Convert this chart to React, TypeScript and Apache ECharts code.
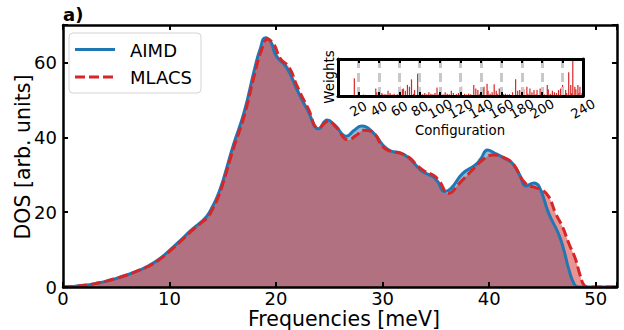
import React, { useEffect, useRef } from "react";
import * as echarts from "echarts";

// ---- Main DOS data (Frequencies in meV, DOS in arb. units) ----
const aimdFreq = [0, 1, 2, 3, 4, 5, 6, 7, 8, 9, 10, 11, 12, 13, 13.5, 14, 14.5, 15, 16, 17, 18, 18.5, 19, 19.5, 20, 21, 22, 23, 24, 24.8, 25.5, 26.6, 27.3, 28, 29.2, 30, 30.8, 31.6, 32.5, 33.2, 33.8, 34.7, 35.2, 35.8, 36.4, 37.5, 38.7, 39.2, 39.85, 40.5, 41.5, 42.2, 42.8, 43.5, 44.2, 44.7, 45.6, 46.5, 47, 47.5, 48, 48.4, 52];
const aimdDos = [0, 0.15, 0.45, 0.9, 1.5, 2.3, 3.2, 4.3, 5.6, 7.4, 9.8, 12.4, 15.1, 17.5, 18.9, 21.3, 24.3, 28.3, 38, 46.7, 58.5, 63.5, 66.6, 65.5, 61.8, 58.6, 52.5, 47, 42.3, 44.6, 43.3, 40.3, 41.8, 43, 41, 38, 36.3, 35.9, 34.4, 32.3, 30.7, 29.5, 28, 25.5, 26.3, 30.3, 32.6, 34.2, 36.6, 35.8, 34.3, 33, 30.3, 27, 27.8, 26.8, 19.6, 14.3, 10, 4.5, 0.7, 0, 0];

const mlacsFreq = [0, 1, 2, 3, 4, 5, 6, 7, 8, 9, 10, 11, 12, 13, 13.6, 14, 14.5, 15, 16, 17, 18, 18.6, 19.2, 19.8, 20.4, 21.2, 22, 23, 24, 24.9, 25.6, 26.8, 27.5, 28.3, 29.2, 30, 30.8, 31.6, 32.5, 33.2, 33.9, 34.8, 35.3, 36.2, 37.2, 38.4, 39.5, 40.4, 41.2, 42.2, 43.4, 44.4, 45, 45.6, 46.25, 46.9, 47.5, 48.1, 48.5, 48.9, 49.3, 52];
const mlacsDos = [0, 0.15, 0.45, 0.9, 1.5, 2.3, 3.2, 4.3, 5.5, 7.2, 9.5, 12.1, 14.8, 17.2, 18.7, 20.6, 23.5, 27.5, 37, 45.6, 57, 63, 66.2, 64.8, 61, 58.8, 53.5, 47.8, 42.5, 44.3, 42.8, 39.3, 40.5, 41.9, 41, 37.5, 36.2, 35.8, 34.6, 32.6, 31, 29.8, 28.4, 25, 27.7, 31.2, 34.2, 35.3, 34.8, 33, 27.7, 26.5, 25.9, 24.1, 19.6, 16, 11.5, 7.5, 3.5, 0.5, 0, 0];

// ---- Inset: configuration weights ----
const weightConfigs = [16, 25, 37, 38, 40, 41, 43, 44, 46, 47, 49, 51, 53, 55, 58, 60, 61, 63, 64, 66, 68, 70, 72, 74, 75, 78, 79, 81, 83, 85, 87, 89, 91, 93, 95, 97, 99, 101, 103, 105, 107, 109, 111, 113, 116, 118, 119, 121, 124, 126, 128, 130, 133, 135, 137, 139, 142, 143, 146, 147, 149, 151, 153, 155, 156, 158, 160, 162, 164, 166, 168, 171, 174, 176, 178, 180, 182, 185, 186, 188, 190, 192, 194, 195, 198, 200, 202, 205, 206, 208, 210, 212, 214, 216, 218, 220, 221, 223, 224, 226, 228, 229, 230, 232, 233, 235, 236, 237, 239];
const weightValues = [0.48, 0.04, 0.2, 0.1, 0.06, 0.04, 0.08, 0.05, 0.05, 0.04, 0.14, 0.08, 0.04, 0.06, 0.05, 0.07, 0.25, 0.18, 0.2, 0.14, 0.3, 0.25, 0.45, 0.06, 0.16, 0.6, 0.25, 0.06, 0.05, 0.08, 0.05, 0.1, 0.06, 0.05, 0.08, 0.23, 0.05, 0.08, 0.05, 0.1, 0.06, 0.05, 0.14, 0.08, 0.05, 0.08, 0.05, 0.25, 0.06, 0.04, 0.07, 0.05, 0.3, 0.2, 0.16, 0.06, 0.2, 0.25, 0.33, 0.14, 0.06, 0.1, 0.32, 0.14, 0.06, 0.2, 0.08, 0.05, 0.06, 0.04, 0.05, 0.1, 0.45, 0.14, 0.16, 0.1, 0.18, 0.25, 0.06, 0.2, 0.1, 0.16, 0.05, 0.16, 0.2, 0.1, 0.05, 0.3, 0.18, 0.06, 0.14, 0.1, 0.08, 0.16, 0.2, 0.3, 0.06, 0.16, 0.08, 0.64, 0.3, 0.08, 1.0, 0.25, 0.18, 0.3, 0.08, 0.25, 0.08];

const seriesNames = ["AIMD", "MLACS"];
const BLUE = "#1f77b4";
const RED = "#d62728";
const FONT = "DejaVu Sans";
const SMOOTH = 0.5;

const zip = (a: number[], b: number[]) => a.map((v, i) => [v, b[i]]);

export default function App() {
  const ref = useRef<HTMLDivElement>(null);
  useEffect(() => {
    if (!ref.current) return;
    const chart = echarts.init(ref.current, null, { renderer: "svg" });
    const aimd = zip(aimdFreq, aimdDos);
    const mlacs = zip(mlacsFreq, mlacsDos);
    const weights = zip(weightConfigs, weightValues);

    const spine = { show: true, onZero: false, lineStyle: { color: "#000", width: 2.5 } };
    const tick = { show: true, inside: true, length: 5, lineStyle: { color: "#000", width: 2 } };
    const ispine = { show: true, onZero: false, lineStyle: { color: "#000", width: 3 } };
    const itick = { show: true, inside: true, length: 4, lineStyle: { color: "#000", width: 2 } };

    chart.setOption({
      animation: false,
      textStyle: { fontFamily: FONT },
      grid: [
        { left: 63, right: 7, top: 25, bottom: 43 },
        { left: 338, top: 59, width: 245, height: 37, show: true, backgroundColor: "#fff", borderWidth: 0, z: 5 },
      ],
      xAxis: [
        {
          gridIndex: 0, type: "value", min: 0, max: 52, interval: 10, position: "bottom", z: 6,
          axisLine: spine, axisTick: tick, splitLine: { show: false },
          axisLabel: { color: "#000", fontSize: 18, margin: 2, lineHeight: 18, fontFamily: FONT, formatter: (v: number) => (v % 10 === 0 ? String(v) : "") },
        },
        {
          gridIndex: 0, type: "value", min: 0, max: 52, interval: 10, position: "top", z: 6,
          axisLine: spine, axisTick: tick, splitLine: { show: false }, axisLabel: { show: false },
        },
        {
          gridIndex: 1, type: "value", min: 0, max: 240, interval: 20, position: "bottom", z: 8,
          axisLine: ispine, axisTick: itick,
          splitLine: { show: true, lineStyle: { color: "#c8c8c8", width: 3, type: [9, 5] } },
          axisLabel: { color: "#000", fontSize: 13.3, fontFamily: FONT, rotate: 30, margin: 13, align: "center", verticalAlign: "middle", showMinLabel: false, showMaxLabel: true, hideOverlap: false },
        },
        {
          gridIndex: 1, type: "value", min: 0, max: 240, interval: 20, position: "top", z: 8,
          axisLine: ispine, axisTick: itick, splitLine: { show: false }, axisLabel: { show: false },
        },
      ],
      yAxis: [
        {
          gridIndex: 0, type: "value", min: 0, max: 70, interval: 20, position: "left", z: 6,
          axisLine: spine, axisTick: tick, splitLine: { show: false },
          axisLabel: { color: "#000", fontSize: 18, margin: 6, fontFamily: FONT, formatter: (v: number) => (v % 20 === 0 ? String(v) : "") },
        },
        {
          gridIndex: 0, type: "value", min: 0, max: 70, interval: 20, position: "right", z: 6,
          axisLine: spine, axisTick: tick, splitLine: { show: false }, axisLabel: { show: false },
        },
        {
          gridIndex: 1, type: "value", min: 0, max: 1, position: "left", z: 8,
          axisLine: ispine, axisTick: { show: false }, splitLine: { show: false }, axisLabel: { show: false },
        },
        {
          gridIndex: 1, type: "value", min: 0, max: 1, position: "right", z: 8,
          axisLine: ispine, axisTick: { show: false }, splitLine: { show: false }, axisLabel: { show: false },
        },
      ],
      series: [
        {
          name: seriesNames[0] + " fill", type: "line", xAxisIndex: 0, yAxisIndex: 0, data: aimd,
          smooth: SMOOTH, symbol: "none", z: 1,
          lineStyle: { width: 0, opacity: 0 }, areaStyle: { color: BLUE, opacity: 0.5 },
        },
        {
          name: seriesNames[1] + " fill", type: "line", xAxisIndex: 0, yAxisIndex: 0, data: mlacs,
          smooth: SMOOTH, symbol: "none", z: 2,
          lineStyle: { width: 0, opacity: 0 }, areaStyle: { color: RED, opacity: 0.5 },
        },
        {
          name: seriesNames[0], type: "line", xAxisIndex: 0, yAxisIndex: 0, data: aimd,
          smooth: SMOOTH, symbol: "none", z: 3,
          lineStyle: { color: BLUE, width: 3 },
        },
        {
          name: seriesNames[1], type: "line", xAxisIndex: 0, yAxisIndex: 0, data: mlacs,
          smooth: SMOOTH, symbol: "none", z: 4,
          lineStyle: { color: RED, width: 3, type: [10, 4] },
        },
        {
          name: "Weights", type: "bar", xAxisIndex: 2, yAxisIndex: 2, data: weights,
          barWidth: 1.2, itemStyle: { color: RED }, z: 7,
        },
      ],
      graphic: [
        { type: "rect", shape: { x: 69, y: 33, width: 132, height: 60, r: 4 }, style: { fill: "rgba(255,255,255,0.8)", stroke: "#d4d4d4", lineWidth: 1 }, z: 20 },
        { type: "line", shape: { x1: 75, y1: 49.5, x2: 115, y2: 49.5 }, style: { stroke: BLUE, lineWidth: 3 }, z: 21 },
        { type: "line", shape: { x1: 75, y1: 77, x2: 115, y2: 77 }, style: { stroke: RED, lineWidth: 3, lineDash: [10, 4] }, z: 21 },
        { type: "text", x: 130, y: 50, style: { text: seriesNames[0], fontSize: 18, fontFamily: FONT, fill: "#000", align: "left", verticalAlign: "middle" }, z: 21 },
        { type: "text", x: 130, y: 77.5, style: { text: seriesNames[1], fontSize: 18, fontFamily: FONT, fill: "#000", align: "left", verticalAlign: "middle" }, z: 21 },
        { type: "text", x: 63, y: 14, style: { text: "a)", fontSize: 18, fontWeight: "bold", fontFamily: FONT, fill: "#000", align: "left", verticalAlign: "middle" }, z: 21 },
        { type: "text", x: 344, y: 319, style: { text: "Frequencies [meV]", fontSize: 20.5, lineHeight: 20.5, fontFamily: FONT, fill: "#000", align: "center", verticalAlign: "middle" }, z: 21 },
        { type: "text", x: 22.5, y: 157, rotation: Math.PI / 2, style: { text: "DOS [arb. units]", fontSize: 20.5, fontFamily: FONT, fill: "#000", align: "center", verticalAlign: "middle" }, z: 21 },
        { type: "text", x: 460, y: 130, style: { text: "Configuration", fontSize: 13.3, fontFamily: FONT, fill: "#000", align: "center", verticalAlign: "middle" }, z: 21 },
        { type: "text", x: 329, y: 77, rotation: Math.PI / 2, style: { text: "Weights", fontSize: 13.3, fontFamily: FONT, fill: "#000", align: "center", verticalAlign: "middle" }, z: 21 },
      ],
    });
    return () => chart.dispose();
  }, []);
  return <div ref={ref} style={{ position: "fixed", left: 0, top: 0, width: 624, height: 330, background: "#fff" }} />;
}
